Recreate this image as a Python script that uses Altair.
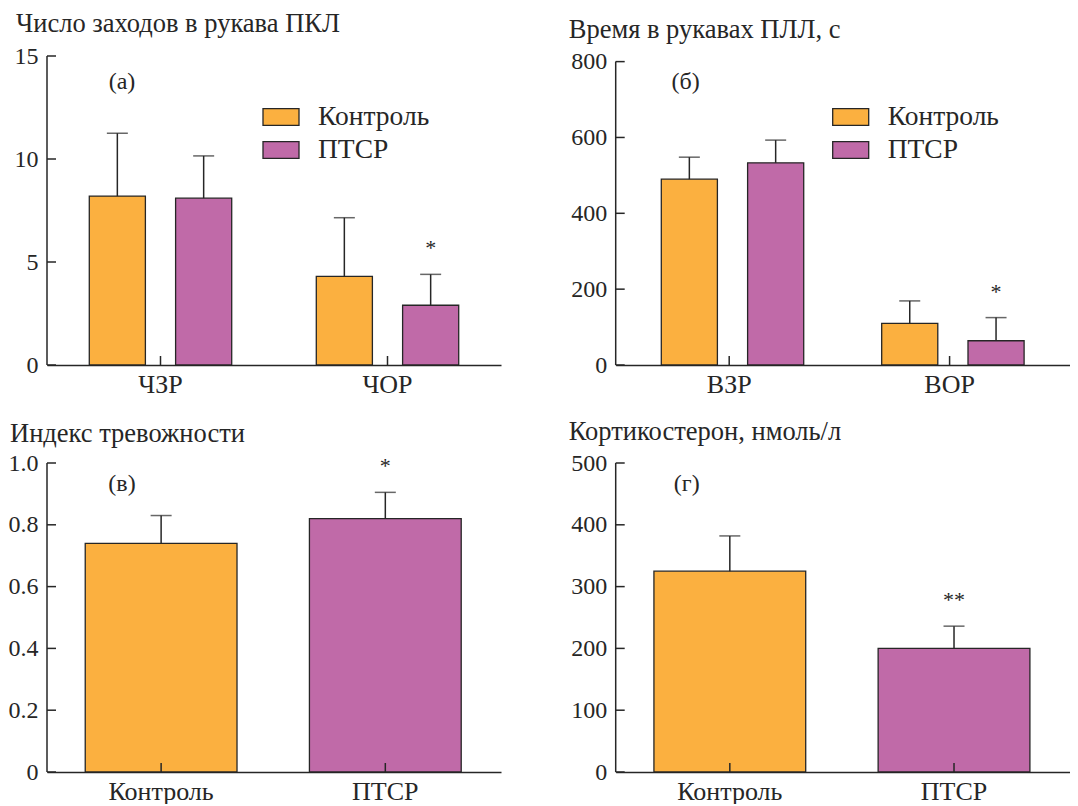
import altair as alt
import pandas as pd

FONT = "Liberation Serif"
INK = "#262626"

GROUPS = ["Контроль", "ПТСР"]
COLORS = ["#FBB040", "#C06AA8"]

# (а) Число заходов в рукава ПКЛ
A_CATS = ["ЧЗР", "ЧОР"]
A_CTRL = [8.2, 4.3]
A_CTRL_ERR = [3.05, 2.85]
A_PTSR = [8.1, 2.9]
A_PTSR_ERR = [2.05, 1.5]
A_SIG_CTRL = ["", ""]
A_SIG_PTSR = ["", "*"]
A_TICKS = [0, 5, 10, 15]

# (б) Время в рукавах ПЛЛ, с
B_CATS = ["ВЗР", "ВОР"]
B_CTRL = [490, 110]
B_CTRL_ERR = [58, 59]
B_PTSR = [533, 64]
B_PTSR_ERR = [60, 61]
B_SIG_CTRL = ["", ""]
B_SIG_PTSR = ["", "*"]
B_TICKS = [0, 200, 400, 600, 800]

# (в) Индекс тревожности
C_MEAN = [0.74, 0.82]
C_ERR = [0.09, 0.085]
C_SIG = ["", "*"]
C_TICKS = [0, 0.2, 0.4, 0.6, 0.8, 1.0]

# (г) Кортикостерон, нмоль/л
D_MEAN = [325, 200]
D_ERR = [57, 36]
D_SIG = ["", "**"]
D_TICKS = [0, 100, 200, 300, 400, 500]

W, H = 454, 309


def grouped_df(cats, ctrl, ctrl_err, ptsr, ptsr_err, sig_c, sig_p):
    rows = []
    for i, c in enumerate(cats):
        rows.append({"cat": c, "group": GROUPS[0], "mean": ctrl[i], "top": ctrl[i] + ctrl_err[i], "sig": sig_c[i]})
        rows.append({"cat": c, "group": GROUPS[1], "mean": ptsr[i], "top": ptsr[i] + ptsr_err[i], "sig": sig_p[i]})
    return pd.DataFrame(rows)


def single_df(means, errs, sigs):
    return pd.DataFrame({"group": GROUPS, "mean": means,
                         "top": [m + e for m, e in zip(means, errs)], "sig": sigs})


def panel(df, xfield, xsort, xscale, offset, ydomain, yticks, title, dx, tdy,
          letter, lx, ly, legend, label_expr=None):
    xaxis = alt.Axis(title=None, labelAngle=0, ticks=False, domainColor=INK,
                     domainWidth=1.5, labelFont=FONT, labelFontSize=26,
                     labelColor=INK, labelPadding=6)
    xenc = alt.X(f"{xfield}:N", sort=xsort, scale=xscale, axis=xaxis)
    yaxis_kw = dict(title=None, values=yticks, ticks=False, domain=False, grid=False,
                    labelFont=FONT, labelFontSize=24, labelColor=INK, labelPadding=9)
    if label_expr:
        yaxis_kw["labelExpr"] = label_expr
    yaxis = alt.Axis(**yaxis_kw)
    yscale = alt.Scale(domain=ydomain, nice=False, zero=True)

    def Y(field):
        return alt.Y(field, scale=yscale, axis=yaxis)

    enc = {"x": xenc}
    if offset:
        enc["xOffset"] = alt.XOffset("group:N", sort=GROUPS,
                                     scale=alt.Scale(paddingInner=0.35, paddingOuter=0.49))
    color = alt.Color("group:N", scale=alt.Scale(domain=GROUPS, range=COLORS), legend=legend)
    base = alt.Chart(df)
    bars = base.mark_bar(stroke=INK, strokeWidth=1.3).encode(
        y=Y("mean:Q"), color=color, **enc)
    err = base.mark_rule(color=INK, strokeWidth=1.5).encode(
        y=Y("mean:Q"), y2="top:Q", **enc)
    caps = base.mark_tick(orient="horizontal", size=21, thickness=1.5, color=INK).encode(
        y=Y("top:Q"), **enc)
    stars = base.mark_text(font=FONT, fontSize=22, color=INK, baseline="alphabetic", dy=-19).encode(
        y=Y("top:Q"), text="sig:N", **enc)
    yt = alt.Chart(pd.DataFrame({"t": yticks})).mark_rule(color=INK, strokeWidth=1.5).encode(
        y=Y("t:Q"), x=alt.value(0), x2=alt.value(9))
    ydom = alt.Chart(pd.DataFrame({"y0": [yticks[0]], "y1": [yticks[-1]]})).mark_rule(
        color=INK, strokeWidth=1.5).encode(y=Y("y0:Q"), y2="y1:Q", x=alt.value(0))
    xt = alt.Chart(pd.DataFrame({xfield: xsort})).mark_rule(color=INK, strokeWidth=1.5).encode(
        x=xenc, y=alt.value(H - 9), y2=alt.value(H))
    lab = alt.Chart(pd.DataFrame({"l": [letter]})).mark_text(
        font=FONT, fontSize=24, color=INK).encode(text="l:N", x=alt.value(lx), y=alt.value(ly))
    return alt.layer(bars, err, caps, stars, yt, ydom, xt, lab).properties(
        width=W, height=H,
        title=alt.TitleParams(text=title, anchor="start", frame="group", dx=dx, dy=tdy, offset=11,
                              font=FONT, fontSize=26.5, fontWeight="normal", color=INK,
                              baseline="alphabetic"))


def make_legend(lx, ly):
    return alt.Legend(orient="none", legendX=lx, legendY=ly, title=None,
                      symbolType="M-1,-0.47H1V0.47H-1Z", symbolSize=1296,
                      symbolStrokeColor=INK, symbolStrokeWidth=1.3, symbolOpacity=1,
                      labelFont=FONT, labelFontSize=27.5, labelColor=INK, labelOffset=18,
                      rowPadding=0, padding=0, offset=0)


a = panel(grouped_df(A_CATS, A_CTRL, A_CTRL_ERR, A_PTSR, A_PTSR_ERR, A_SIG_CTRL, A_SIG_PTSR),
          "cat", A_CATS, alt.Scale(paddingInner=0, paddingOuter=0), True,
          [0, 15], A_TICKS, "Число заходов в рукава ПКЛ", -31, 25,
          "(а)", 75, 26, make_legend(215, 42))

b = panel(grouped_df(B_CATS, B_CTRL, B_CTRL_ERR, B_PTSR, B_PTSR_ERR, B_SIG_CTRL, B_SIG_PTSR),
          "cat", B_CATS, alt.Scale(paddingInner=0, paddingOuter=0.03, align=0.25), True,
          [0, 814.8], B_TICKS, "Время в рукавах ПЛЛ, с", -47, 26,
          "(б)", 70, 26, make_legend(216, 42))

c = panel(single_df(C_MEAN, C_ERR, C_SIG), "group", GROUPS,
          alt.Scale(paddingInner=0.323, paddingOuter=0.174, align=0.49), False,
          [0, 1.0], C_TICKS, "Индекс тревожности", -37, 28,
          "(в)", 75, 21, None,
          label_expr="datum.value == 0 ? '0' : format(datum.value, '.1f')")

d = panel(single_df(D_MEAN, D_ERR, D_SIG), "group", GROUPS,
          alt.Scale(paddingInner=0.323, paddingOuter=0.174, align=0.49), False,
          [0, 500], D_TICKS, "Кортикостерон, нмоль/л", -47, 26,
          "(г)", 71, 21, None)

chart = alt.concat(a, b, c, d, columns=2).properties(
    spacing={"row": 98, "column": 114.7}, bounds="flush",
    padding={"left": 0, "top": 2, "right": 0, "bottom": 0},
).resolve_scale(color="independent", x="independent", y="independent").resolve_legend(
    color="independent").configure_view(stroke=None)

chart.save("out.html", embed_options={"renderer": "svg", "actions": False})
